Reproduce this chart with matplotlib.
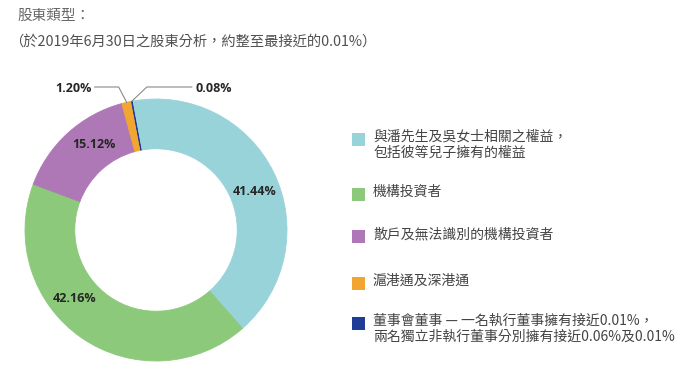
import matplotlib
matplotlib.use("Agg")
import matplotlib.pyplot as plt
import numpy as np
from matplotlib.patches import Rectangle

plt.rcParams['font.family'] = ['Noto Sans CJK TC', 'DejaVu Sans']

# ---- data ----
categories = [
    "與潘先生及吳女士相關之權益，\n包括彼等兒子擁有的權益",
    "機構投資者",
    "散戶及無法識別的機構投資者",
    "滬港通及深港通",
    "董事會董事 — 一名執行董事擁有接近0.01%，\n兩名獨立非執行董事分別擁有接近0.06%及0.01%",
]
values = [41.44, 42.16, 15.12, 1.20, 0.08]
pct_labels = ["41.44%", "42.16%", "15.12%", "1.20%", "0.08%"]
colors = ["#98d3da", "#8cc97a", "#ad78b5", "#f3a531", "#1f3d96"]

title = "股東類型："
subtitle = "（於2019年6月30日之股東分析，約整至最接近的0.01%）"

# ---- layout ----
W, H = 693, 382
fig = plt.figure(figsize=(W / 100, H / 100), dpi=100)
ax = fig.add_axes([0, 0, 1, 1])

cx, cy = 156, H - 230
R = 131
ring = 0.38
start = 100.5

wedges, _ = ax.pie(values, colors=colors, startangle=start, counterclock=False,
                   radius=R, center=(cx, cy),
                   wedgeprops=dict(width=R * ring, linewidth=0.6))
for w, c in zip(wedges, colors):
    w.set_edgecolor(c)

ax.set_xlim(0, W)
ax.set_ylim(0, H)
ax.set_aspect('auto')
ax.axis('off')

# inside labels (angle positions chosen for layout)
inside_angles = [21, -140, 126]
rmid = R * (1 - ring / 2)
for i, ang in enumerate(inside_angles):
    a = np.deg2rad(ang)
    ax.text(cx + rmid * np.cos(a), cy + rmid * np.sin(a), pct_labels[i],
            ha='center', va='center', fontsize=9, fontweight='bold',
            family=['Open Sans', 'DejaVu Sans'], color='#262626')

# outside labels with leader lines
angles = []
acc = start
for v in values:
    span = v / sum(values) * 360
    angles.append(acc - span / 2)
    acc -= span

ly = H - 87
for i, elbow_dx, line_end_dx, ha in [(3, -8, -32, 'right'), (4, 15, 60, 'left')]:
    a = np.deg2rad(angles[i])
    px, py = cx + R * np.cos(a), cy + R * np.sin(a)
    ex = px + elbow_dx
    lx = px + line_end_dx
    ax.plot([px, ex, lx], [py, ly, ly], color='#8a8a8a', lw=0.8)
    tx = lx - 3 if ha == 'right' else lx + 4
    ax.text(tx, ly - 1, pct_labels[i], ha=ha, va='center', fontsize=9,
            fontweight='bold', family=['Open Sans', 'DejaVu Sans'], color='#262626')

# titles
fig.text(17 / W, 1 - 16 / H, title, fontsize=10.5, color='#666666', va='center', ha='left')
fig.text(9 / W, 1 - 42 / H, subtitle, fontsize=10.3, color='#505050', va='center',
         ha='left', style='italic')

# legend
sq = 13
sq_x = 352
txt_x = 373
row_y = [137, 192, 234, 281, 321]
for lab, col, yy in zip(categories, colors, row_y):
    y = H - yy
    ax.add_patch(Rectangle((sq_x, y - sq / 2 - 2), sq, sq, facecolor=col, edgecolor='none'))
    ax.text(txt_x, y + 7, lab, ha='left', va='top', fontsize=10, color='#444444',
            linespacing=1.15)

fig.savefig("out.png", dpi=100, facecolor='white')
